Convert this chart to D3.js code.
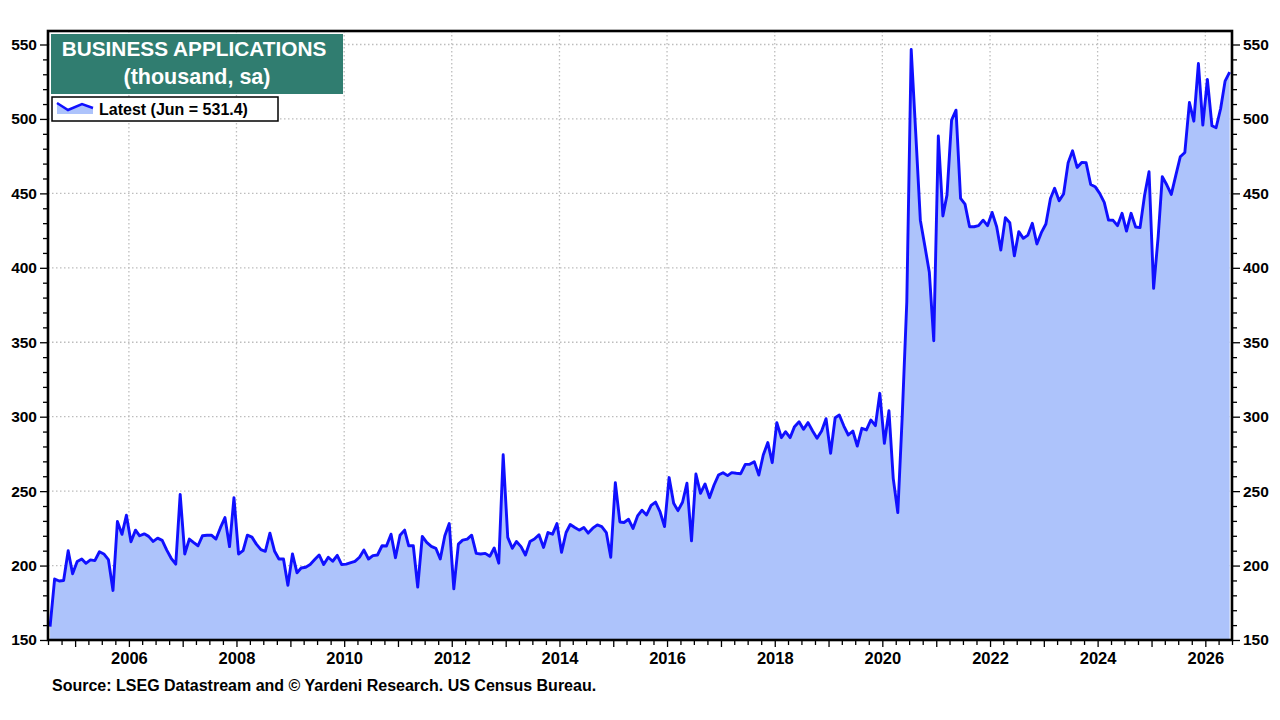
<!DOCTYPE html>
<html><head><meta charset="utf-8">
<script src="https://cdn.jsdelivr.net/npm/d3@7/dist/d3.min.js"></script>
<style>
html,body{margin:0;padding:0;background:#fff;}
svg{display:block;font-family:"Liberation Sans",Arial,sans-serif;}
</style></head>
<body>
<svg id="chart" width="1280" height="720"></svg>
<script>
// ---- data ----
const startMonth = "2004-07"; // first observation
const values = [
159,191,189.6,190,210,194.5,202.7,204.4,201.5,203.8,203.3,209.3,
207.8,204,183.3,229.6,221,233.8,216,223.8,220,221.3,219.6,216.2,
218.4,216.9,210.4,204.9,200.9,247.8,207.8,217.8,215.6,213.3,220,220.4,
220.4,217.8,225.6,232.2,212.7,245.6,207.8,210,220.4,219.1,214.4,210.7,
209.6,221.8,209.8,204.4,204.4,186.7,207.8,195.1,198.4,198.9,200.7,204,
207.1,200.7,205.6,202.9,206.9,200.7,201,202,202.8,205.6,210.4,204.4,
206.7,207.1,213.3,213.1,221.1,205.3,220.4,223.8,213.3,213.3,185.6,219.6,
215.6,212.9,211.6,204.4,220,228.2,184.4,214.4,217.1,217.8,220.4,208.2,
207.8,208.2,206.2,211.8,201.6,274.4,218.9,211.6,216.2,212.7,207.1,216.2,
217.8,220.7,212.2,222.2,221.1,228.2,208.9,222.2,227.6,225.6,223.8,225.6,
221.8,225.1,227.3,226.2,222.2,205.6,255.6,229.3,228.9,231.1,224.9,233.3,
237.2,234,240.4,242.6,236,226.2,259.1,241.8,236.9,242.5,255.3,216.6,
261.5,248.5,254.8,245.6,254.1,260.8,262.4,260.4,262.4,262,261.7,268,
268,269.8,260.8,274.3,282.6,269.1,296,285.9,289.9,285.9,293.3,296.6,
291.5,296,290.4,285.5,290.4,298.7,275.4,299.3,301.1,293.7,287.7,290.4,
280.3,292.2,291.1,297.8,294,315.7,282.1,304,258.6,235.6,300,377,
546.6,490,432,415,397,351,488.5,434.8,449,499.2,505.9,446.6,
442.8,427.6,427.6,428.3,432,428.3,437.2,427.6,412,433.7,430.3,408,
424.3,419.8,422,429.9,416,423.6,429.4,446.6,453.4,445,449.6,470.6,
478.6,467.4,470.8,470.6,456,454.5,450,444,432,431.9,428.3,436.6,
424.7,436.6,427.4,427,448.9,464.5,386.2,420.9,461.2,455.6,449.3,462.3,
474.6,477.5,511,498.5,537.2,495.9,526.5,495.4,494.1,507,525.4,531.4
];
const yTicks = [150,200,250,300,350,400,450,500,550];
const xTickYears = [2006,2008,2010,2012,2014,2016,2018,2020,2022,2024,2026];
const titleLines = ["BUSINESS APPLICATIONS","(thousand, sa)"];
const legendLabel = "Latest (Jun = 531.4)";
const sourceText = "Source: LSEG Datastream and \u00A9 Yardeni Research. US Census Bureau.";

// ---- build ----
const parse = d3.timeParse("%Y-%m");
const t0 = parse(startMonth);
const data = values.map((v,i)=>({date:new Date(t0.getFullYear(), t0.getMonth()+i, 15), value:v}));

const svg = d3.select("#chart");
const L=48, R=1232, T=31, B=640;
const x = d3.scaleTime().domain([new Date(2004,6,1), new Date(2026,6,1)]).range([L,R]);
const y = d3.scaleLinear().domain([150,550]).range([B,44.5]);

// grid
const grid = svg.append("g").attr("stroke","#bdbdbd").attr("stroke-width",1.3).attr("stroke-dasharray","1.5,2.5");
yTicks.slice(1).forEach(v=>grid.append("line").attr("x1",L).attr("x2",R).attr("y1",y(v)).attr("y2",y(v)));
xTickYears.forEach(yr=>{const xx=x(new Date(yr,0,1));grid.append("line").attr("x1",xx).attr("x2",xx).attr("y1",T).attr("y2",B);});

// area + line
const area = d3.area().x(d=>x(d.date)).y0(B).y1(d=>y(d.value));
const line = d3.line().x(d=>x(d.date)).y(d=>y(d.value));
svg.append("path").datum(data).attr("d",area).attr("fill","#adc3fb");
svg.append("path").datum(data).attr("d",line).attr("fill","none").attr("stroke","#1010ff").attr("stroke-width",2.9).attr("stroke-linejoin","round");

// frame
svg.append("rect").attr("x",L).attr("y",T).attr("width",R-L).attr("height",B-T).attr("fill","none").attr("stroke","#000").attr("stroke-width",2.6);

// y axes
const yMinor = d3.range(150,551,10);
const axL = d3.axisLeft(y).tickValues(yMinor).tickSize(4).tickFormat(d=> yTicks.includes(d)? d : "");
const axR = d3.axisRight(y).tickValues(yMinor).tickSize(4).tickFormat(d=> yTicks.includes(d)? d : "");
function styleAxis(g){
  g.select(".domain").remove();
  g.selectAll(".tick line").attr("stroke","#000").attr("stroke-width",1.3);
  g.selectAll(".tick text").attr("font-size",15.5).attr("font-weight","bold").attr("fill","#000").attr("font-family","'Liberation Sans',Arial,sans-serif");
}
const gL = svg.append("g").attr("transform",`translate(${L-1},0)`).call(axL).call(styleAxis);
gL.selectAll(".tick").filter(d=>yTicks.includes(d)).select("line").attr("x2",-7);
gL.selectAll(".tick text").attr("x",-10);
const gR = svg.append("g").attr("transform",`translate(${R+1},0)`).call(axR).call(styleAxis);
gR.selectAll(".tick").filter(d=>yTicks.includes(d)).select("line").attr("x2",7);
gR.selectAll(".tick text").attr("x",10);

// x axis
const quarters = d3.timeMonth.every(3).range(new Date(2004,6,1), new Date(2026,6,2));
const axB = d3.axisBottom(x).tickValues(quarters).tickSize(4).tickFormat(d=>(d.getMonth()===0 && xTickYears.includes(d.getFullYear()))? d.getFullYear():"");
const gB = svg.append("g").attr("transform",`translate(0,${B+1})`).call(axB).call(styleAxis);
gB.selectAll(".tick").filter(d=>d.getMonth()===0).select("line").attr("y2",6);
gB.selectAll(".tick text").attr("y",11).attr("font-size",16.5);

// title box
svg.append("rect").attr("x",51).attr("y",34).attr("width",292).attr("height",60).attr("fill","#307d70");
svg.append("text").attr("x",194).attr("y",56).attr("text-anchor","middle").attr("fill","#fff").attr("font-size",20.8).attr("font-weight","bold").text(titleLines[0]);
svg.append("text").attr("x",197).attr("y",84).attr("text-anchor","middle").attr("fill","#fff").attr("font-size",21.5).attr("font-weight","bold").text(titleLines[1]);

// legend
svg.append("rect").attr("x",52).attr("y",97).attr("width",226).attr("height",24).attr("fill","#fff").attr("stroke","#000").attr("stroke-width",1.5);
const sw = [[57,103],[68,110],[82,104],[93,108]];
svg.append("path").attr("d",d3.area().x(d=>d[0]).y0(114).y1(d=>d[1])(sw)).attr("fill","#adc3fb");
svg.append("path").attr("d",d3.line()(sw)).attr("fill","none").attr("stroke","#1010ff").attr("stroke-width",2.5);
svg.append("text").attr("x",99).attr("y",114.5).attr("font-size",16).attr("font-weight","bold").attr("fill","#000").text(legendLabel);

// source
svg.append("text").attr("x",52).attr("y",690.5).attr("font-size",16).attr("font-weight","bold").attr("fill","#000").text(sourceText);
</script>
</body></html>
